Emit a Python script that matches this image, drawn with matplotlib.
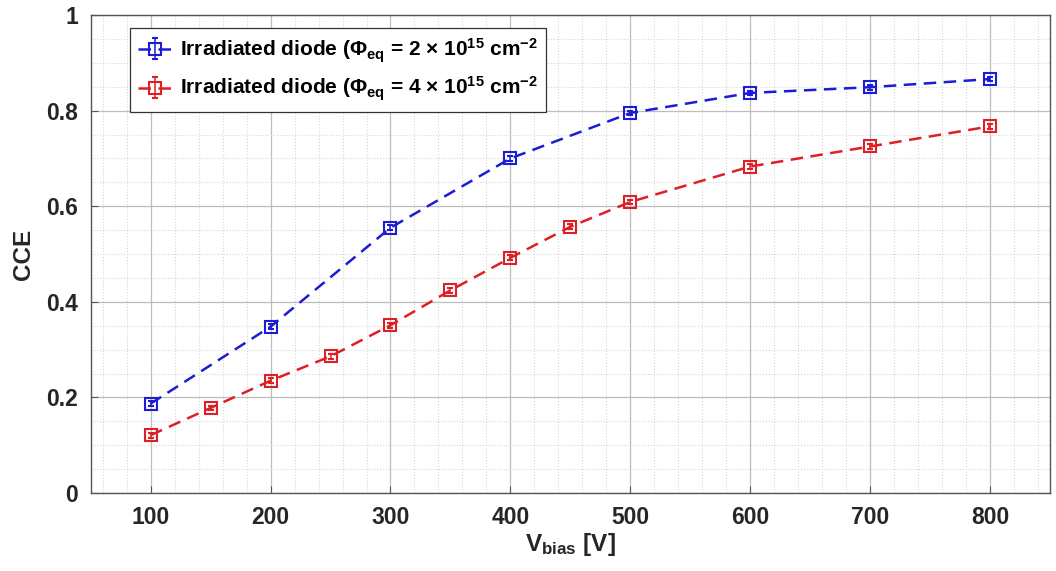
import numpy as np
import matplotlib
matplotlib.use("Agg")
import matplotlib.pyplot as plt
from matplotlib.ticker import MultipleLocator

# Fonts: Arial-like bold everywhere, math text bold too
plt.rcParams['font.family'] = ['Liberation Sans', 'DejaVu Sans']
plt.rcParams['font.weight'] = 'bold'
plt.rcParams['mathtext.fontset'] = 'custom'
plt.rcParams['mathtext.rm'] = 'Liberation Sans:bold'
plt.rcParams['mathtext.bf'] = 'Liberation Sans:bold'
plt.rcParams['mathtext.it'] = 'Liberation Sans:bold'
plt.rcParams['mathtext.default'] = 'bf'

# CCE vs bias voltage
v_low = [100, 200, 300, 400, 500, 600, 700, 800]
cce_low = [0.187, 0.348, 0.555, 0.700, 0.795, 0.837, 0.849, 0.866]
err_low = [0.005, 0.005, 0.005, 0.005, 0.005, 0.005, 0.005, 0.005]

v_high = [100, 150, 200, 250, 300, 350, 400, 450, 500, 600, 700, 800]
cce_high = [0.121, 0.178, 0.235, 0.286, 0.351, 0.424, 0.492, 0.557, 0.609, 0.683, 0.725, 0.767]
err_high = [0.005] * 12

label_low = r'Irradiated diode ($\Phi_{eq}$ = 2 $\times$ 10$^{15}$ cm$^{-2}$'
label_high = r'Irradiated diode ($\Phi_{eq}$ = 4 $\times$ 10$^{15}$ cm$^{-2}$'

blue = '#1c1cd4'
red = '#de1f26'

fig = plt.figure(figsize=(10.56, 5.71), dpi=100)
ax = fig.add_axes([0.0859, 0.1366, 0.9084, 0.8371])

ax.errorbar(v_low, cce_low, yerr=err_low, color=blue, ls='--', lw=1.8,
            marker='s', ms=8, mfc='none', mew=1.5, capsize=2.5, elinewidth=1.1,
            dashes=(5, 3), label=label_low, zorder=3)
ax.errorbar(v_high, cce_high, yerr=err_high, color=red, ls='--', lw=1.8,
            marker='s', ms=8, mfc='none', mew=1.5, capsize=2.5, elinewidth=1.1,
            dashes=(5, 3), label=label_high, zorder=3)

ax.set_xlim(50, 850)
ax.set_ylim(0, 1)
ax.set_xticks(np.arange(100, 801, 100))
ax.set_yticks([0, 0.2, 0.4, 0.6, 0.8, 1])
ax.set_yticklabels(['0', '0.2', '0.4', '0.6', '0.8', '1'])
ax.xaxis.set_minor_locator(MultipleLocator(20))
ax.yaxis.set_minor_locator(MultipleLocator(0.05))

ax.grid(which='major', color='#bdbdbd', lw=0.9, ls='-')
ax.grid(which='minor', color='#d6d6d6', lw=0.8, ls=':')
ax.set_axisbelow(True)

ax.tick_params(which='major', direction='in', length=5, width=0.8,
               color='#555555', labelsize=16.5, labelcolor='#262626', pad=9)
ax.tick_params(which='minor', length=0)
for s in ax.spines.values():
    s.set_color('#555555')
    s.set_linewidth(1.0)

ax.set_xlabel(r'V$_{bias}$ [V]', fontsize=17.5, fontweight='bold', color='#262626', labelpad=2)
ax.set_ylabel('CCE', fontsize=17.5, fontweight='bold', color='#262626', labelpad=8)

leg = ax.legend(loc='upper left', bbox_to_anchor=(0.041, 0.973), borderaxespad=0,
                fontsize=15, fancybox=False, framealpha=1, edgecolor='#333333',
                handlelength=1.6, handletextpad=0.4, labelspacing=0.5, borderpad=0.4)
leg.get_frame().set_linewidth(0.9)

fig.savefig('out.png', dpi=100)
